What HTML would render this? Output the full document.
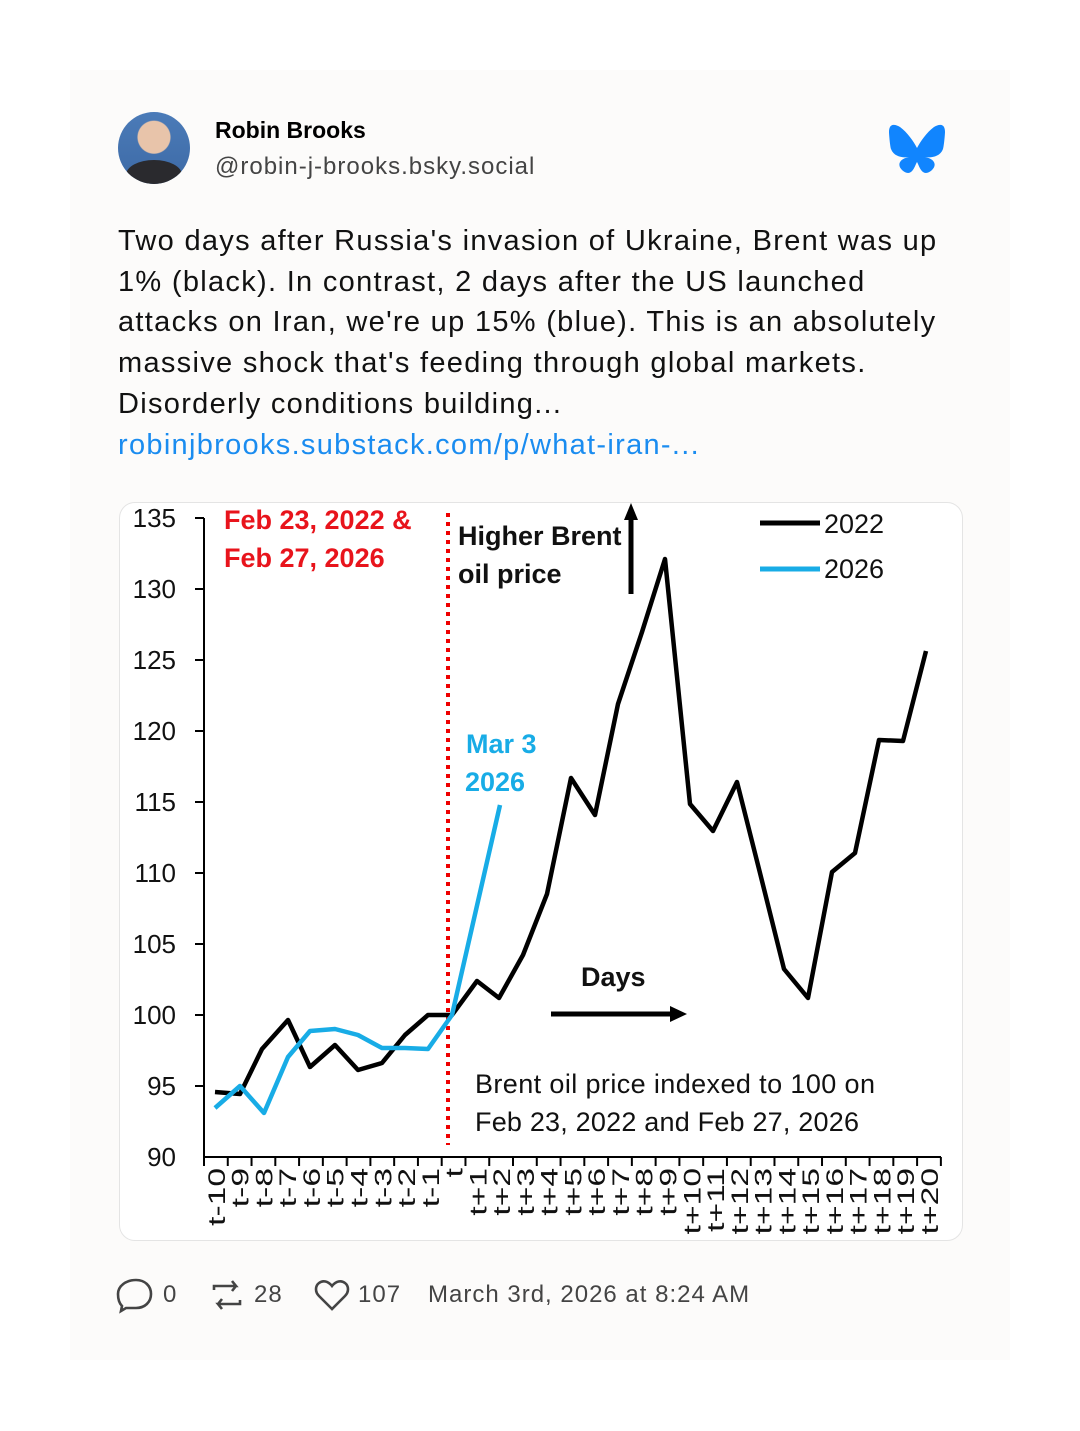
<!DOCTYPE html>
<html><head><meta charset="utf-8"><style>
body{margin:0;width:1080px;height:1431px;background:#fff;font-family:"Liberation Sans",sans-serif;position:relative;overflow:hidden}
.card{position:absolute;left:70px;top:70px;width:940px;height:1290px;background:#fcfbfa}
.av{position:absolute;left:118px;top:112px;width:72px;height:72px;border-radius:50%;background:radial-gradient(circle at 50% 35%,#e8c4aa 0 16px,transparent 17px),linear-gradient(#4b7bb8,#3d6aa6);overflow:hidden}
.av:after{content:"";position:absolute;left:8px;top:48px;width:56px;height:30px;border-radius:50% 50% 0 0;background:#2a2a2e}
.name{position:absolute;left:215px;top:117px;font-size:23px;font-weight:bold;color:#000}
.handle{position:absolute;left:215px;top:153px;font-size:24px;color:#444;letter-spacing:1px}
.txt{position:absolute;left:118px;top:221px;width:900px;font-size:29px;line-height:40.7px;color:#111;letter-spacing:1.3px;white-space:nowrap}
.txt a{color:#1a8cf0;text-decoration:none}
.chart{position:absolute;left:119px;top:502px;width:842px;height:737px;background:#fff;border:1px solid #e4e4e4;border-radius:16px}
.foot{position:absolute;top:1281px;font-size:24px;color:#444;letter-spacing:1px}
</style></head><body>
<div class="card"></div>
<div class="av"></div>
<div class="name">Robin Brooks</div>
<div class="handle">@robin-j-brooks.bsky.social</div>
<svg style="position:absolute;left:888px;top:124px" width="58" height="50" viewBox="0 0 58 50"><path d="M12 3C19 8 26 18 29 24C32 18 39 8 46 3C51 0 57 -1 57 8C57 10 56 22 55 25C52 33 43 34 37 33C47 35 49 41 44 46C34 55 31 41 29 38C27 41 24 55 14 46C9 41 11 35 21 33C15 34 6 33 3 25C2 22 1 10 1 8C1 -1 7 0 12 3Z" fill="#1185fe"/></svg>
<div class="txt">Two days after Russia's invasion of Ukraine, Brent was up<br>1% (black). In contrast, 2 days after the US launched<br>attacks on Iran, we're up 15% (blue). This is an absolutely<br>massive shock that's feeding through global markets.<br>Disorderly conditions building...<br><a>robinjbrooks.substack.com/p/what-iran-...</a></div>
<div class="chart"></div>
<svg style="position:absolute;left:0;top:0" width="1080" height="1431" font-family="Liberation Sans, sans-serif">
<g font-size="26" fill="#111" text-anchor="end">
<text x="176" y="527">135</text><text x="176" y="598">130</text><text x="176" y="669">125</text><text x="176" y="740">120</text><text x="176" y="811">115</text><text x="176" y="882">110</text><text x="176" y="953">105</text><text x="176" y="1024">100</text><text x="176" y="1095">95</text><text x="176" y="1166">90</text>
</g>
<g stroke="#000" stroke-width="2">
<line x1="204" y1="518" x2="204" y2="1158"/><line x1="204" y1="1157" x2="941" y2="1157"/>
<line x1="195" y1="518" x2="204" y2="518"/><line x1="195" y1="589" x2="204" y2="589"/><line x1="195" y1="660" x2="204" y2="660"/><line x1="195" y1="731" x2="204" y2="731"/><line x1="195" y1="802" x2="204" y2="802"/><line x1="195" y1="873" x2="204" y2="873"/><line x1="195" y1="944" x2="204" y2="944"/><line x1="195" y1="1015" x2="204" y2="1015"/><line x1="195" y1="1086" x2="204" y2="1086"/>
</g>
<g id="ticks" stroke="#000" stroke-width="2"></g>
<g id="labs" font-size="24" fill="#111" text-anchor="end"></g>
<line x1="448" y1="513" x2="448" y2="1145" stroke="#e00" stroke-width="4" stroke-dasharray="4,5"/>
<polyline fill="none" stroke="#000" stroke-width="4.5" stroke-linejoin="round" points="215,1092 240,1094 262,1049 288,1020 310,1067 335,1045 358,1070 382,1063 405,1035 428,1015 452,1015 477,981 499,998 523,955 547,894 571,778 595,815 618,704 642,632 665,559 690,804 713,831 737,782 760,873 784,969 808,998 832,872 855,853 879,740 903,741 926,651"/>
<polyline fill="none" stroke="#18ace6" stroke-width="4.5" stroke-linejoin="round" points="215,1108 240,1086 264,1113 288,1057 310,1031 335,1029 358,1035 382,1048 405,1048 428,1049 452,1015 500,805"/>
<g font-weight="bold" font-size="27">
<text x="224" y="529" fill="#e8141c">Feb 23, 2022 &amp;</text>
<text x="224" y="567" fill="#e8141c">Feb 27, 2026</text>
<text x="458" y="545" fill="#111">Higher Brent</text>
<text x="458" y="583" fill="#111">oil price</text>
<text x="466" y="753" fill="#18ace6">Mar 3</text>
<text x="465" y="791" fill="#18ace6">2026</text>
<text x="581" y="986" fill="#111">Days</text>
</g>
<line x1="631" y1="594" x2="631" y2="518" stroke="#000" stroke-width="5"/><polygon points="624,520 638,520 631,503" fill="#000"/>
<line x1="551" y1="1014" x2="672" y2="1014" stroke="#000" stroke-width="5"/><polygon points="670,1006 670,1022 687,1014" fill="#000"/>
<line x1="760" y1="523" x2="820" y2="523" stroke="#000" stroke-width="5"/>
<line x1="760" y1="569" x2="820" y2="569" stroke="#18ace6" stroke-width="5"/>
<g font-size="27" fill="#111"><text x="824" y="533">2022</text><text x="824" y="578">2026</text>
<text x="475" y="1093" textLength="400">Brent oil price indexed to 100 on</text><text x="475" y="1131" textLength="384">Feb 23, 2022 and Feb 27, 2026</text></g>
<g fill="none" stroke="#444" stroke-width="2.6">
<path d="M136 1280c9 0 15 6 15 14s-6 14-15 14h-10l-5 3 1-5c-3-3-4-7-4-12 0-8 8-14 18-14z"/>
<path d="M214 1290v-4h22l-4-5M236 1286l-4 5M240 1300v4h-22l4 5M218 1304l4-5"/>
<path d="M332 1309l-13-13c-4-4-4-10 0-13 4-3 9-2 13 3 4-5 9-6 13-3 4 3 4 9 0 13z"/>
</g>
</svg>
<div class="foot" style="left:163px">0</div>
<div class="foot" style="left:254px">28</div>
<div class="foot" style="left:358px">107</div>
<div class="foot" style="left:428px">March 3rd, 2026 at 8:24 AM</div>
<script>
var t=document.getElementById('ticks'),l=document.getElementById('labs'),s='';
for(var i=0;i<32;i++){var x=204+i*23.77;s+='<line x1="'+x+'" y1="1157" x2="'+x+'" y2="1166"/>';}
t.innerHTML=s;s='';
for(var i=0;i<31;i++){var k=i-10,x=204+23.77*(i+0.5)+9;var lab=k<0?'t'+k:(k==0?'t':'t+'+k);s+='<text transform="translate('+x+',1168) rotate(-90) scale(1.4,1)">'+lab+'</text>';}
l.innerHTML=s;
</script>
</body></html>
